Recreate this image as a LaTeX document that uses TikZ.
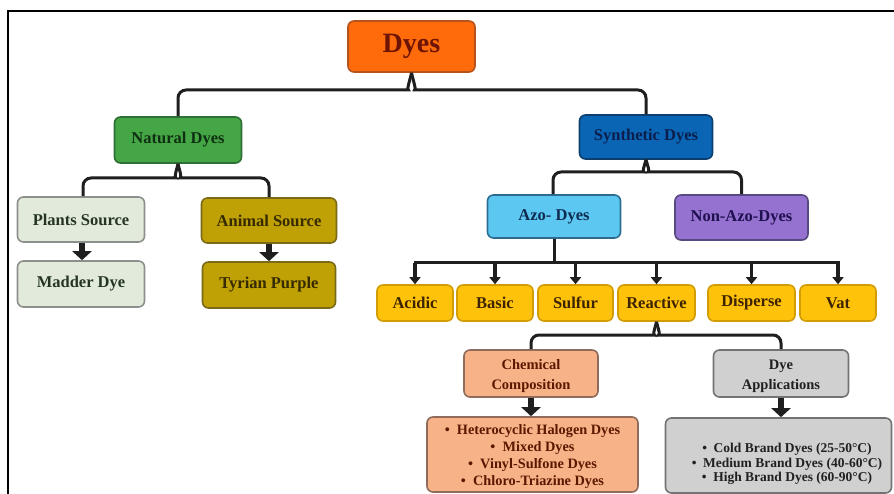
\documentclass[tikz,border=0pt]{standalone}
\usepackage{fontspec}
\setmainfont{Liberation Serif}
\usetikzlibrary{arrows.meta,calc}
\definecolor{cDyes}{HTML}{FF6A0A}
\definecolor{cDyesB}{HTML}{B5531C}
\definecolor{cDyesT}{HTML}{6E1405}
\definecolor{cNat}{HTML}{45A645}
\definecolor{cNatB}{HTML}{2F6F35}
\definecolor{cNatT}{HTML}{0F2F12}
\definecolor{cSyn}{HTML}{0A66B5}
\definecolor{cSynB}{HTML}{0C3E6E}
\definecolor{cSynT}{HTML}{0A1E4E}
\definecolor{cPl}{HTML}{E2EADC}
\definecolor{cPlB}{HTML}{8C8F8A}
\definecolor{cPlT}{HTML}{253525}
\definecolor{cAn}{HTML}{BFA005}
\definecolor{cAnB}{HTML}{7A6A18}
\definecolor{cAnT}{HTML}{352A00}
\definecolor{cAzo}{HTML}{5CC8F2}
\definecolor{cAzoB}{HTML}{2B6C90}
\definecolor{cAzoT}{HTML}{0F2A50}
\definecolor{cNon}{HTML}{9572D0}
\definecolor{cNonB}{HTML}{584A80}
\definecolor{cNonT}{HTML}{1F1050}
\definecolor{cYel}{HTML}{FFC20A}
\definecolor{cYelB}{HTML}{D29C05}
\definecolor{cYelT}{HTML}{3D2300}
\definecolor{cChem}{HTML}{F8B287}
\definecolor{cChemB}{HTML}{8E6B5A}
\definecolor{cChemT}{HTML}{5A1800}
\definecolor{cGr}{HTML}{D0D0D0}
\definecolor{cGrB}{HTML}{737373}
\definecolor{cGrT}{HTML}{202020}
\begin{document}
\begin{tikzpicture}[x=1pt,y=-1pt,
  bx/.style n args={5}{draw=#2, fill=#1, text=#3, minimum width=#4, minimum height=#5,
    rounded corners=6pt, line width=1.6pt, inner sep=0pt, align=center,
    font=\fontsize{16.5}{20}\selectfont\bfseries},
  txt/.style={text=#1, align=center, inner sep=0pt},
  conn/.style={line width=3pt, draw=black!88},
  arr/.style={line width=3.2pt, draw=black!88, -{Triangle[width=11pt,length=7pt]}},
  bigarr/.style={line width=6pt, draw=black!88, -{Triangle[width=19pt,length=9pt]}},
  lst/.style 2 args={font=\fontsize{#1}{#2}\selectfont\bfseries}
]
\useasboundingbox (0,0) rectangle (894,494);
\draw[line width=2pt] (8,494) -- (8,11) -- (894,11);

% level 0
\node[bx={cDyes}{cDyesB}{cDyesT}{127pt}{51pt}, font=\fontsize{28}{30}\selectfont\bfseries] (dyes) at (411.5,46.5) {Dyes};
% level 1
\node[bx={cNat}{cNatB}{cNatT}{127pt}{46pt}] (nat) at (178,140) {Natural Dyes};
\node[bx={cSyn}{cSynB}{cSynT}{133pt}{44pt}] (syn) at (646,137) {Synthetic Dyes};
% natural branch
\node[bx={cPl}{cPlB}{cPlT}{127pt}{45pt}] (plants) at (81,219.5) {Plants Source};
\node[bx={cAn}{cAnB}{cAnT}{135pt}{45pt}] (animal) at (269,220.5) {Animal Source};
\node[bx={cPl}{cPlB}{cPlT}{127pt}{46pt}] (madder) at (81,284) {Madder Dye};
\node[bx={cAn}{cAnB}{cAnT}{133pt}{46pt}] (tyrian) at (269,285) {Tyrian Purple};
% synthetic branch
\node[bx={cAzo}{cAzoB}{cAzoT}{133pt}{43pt}] (azo) at (554,216.5) {Azo- Dyes};
\node[bx={cNon}{cNonB}{cNonT}{133pt}{45pt}] (nonazo) at (741.5,217.5) {Non-Azo-Dyes};
% azo classes
\node[bx={cYel}{cYelB}{cYelT}{76pt}{36pt}] (acidic) at (415,303) {Acidic};
\node[bx={cYel}{cYelB}{cYelT}{76pt}{36pt}] (basic) at (495,303) {Basic};
\node[bx={cYel}{cYelB}{cYelT}{75pt}{36pt}] (sulfur) at (575.5,303) {Sulfur};
\node[bx={cYel}{cYelB}{cYelT}{77pt}{36pt}] (reactive) at (656.5,303) {Reactive};
\node[bx={cYel}{cYelB}{cYelT}{87pt}{36pt}] (disperse) at (751.5,303) {Disperse};
\node[bx={cYel}{cYelB}{cYelT}{76pt}{36pt}] (vat) at (838,303) {Vat};
% reactive branch
\node[bx={cChem}{cChemB}{cChemT}{134pt}{47pt}] (chem) at (531,373.5) {};
\node[txt=cChemT, lst={14.5}{20}] (chemtxt) at (531,376) {Chemical\\Composition};
\node[bx={cGr}{cGrB}{cGrT}{135pt}{47pt}] (dyeapp) at (781,373.5) {};
\node[txt=cGrT, lst={14.5}{20}] (dyeapptxt) at (781,376) {Dye\\Applications};
\node[bx={cChem}{cChemB}{cChemT}{211pt}{75pt}] (chemlist) at (532.5,454.5) {};
\node[txt=cChemT, lst={14.3}{17}] (chemlisttxt) at (532.5,457)
  {•~~Heterocyclic Halogen Dyes\\•~~Mixed Dyes\\•~~Vinyl-Sulfone Dyes\\•~~Chloro-Triazine Dyes};
\node[bx={cGr}{cGrB}{cGrT}{226pt}{75pt}] (applist) at (778.5,455.5) {};
\node[txt=cGrT, lst={13.5}{14.5}] (applisttxt) at (787,464)
  {•~~Cold Brand Dyes (25-50°C)\\•~~Medium Brand Dyes (40-60°C)\\•~~High Brand Dyes (60-90°C)};

% brace connectors
\coordinate (j1) at (411.5,90);
\draw[conn, rounded corners=8pt] (nat.north) |- ($(j1)+(-11,0)$) .. controls +(6,0) and +(-2,9) .. (dyes.south);
\draw[conn, rounded corners=8pt] (syn.north) |- ($(j1)+(11,0)$) .. controls +(-6,0) and +(2,9) .. (dyes.south);
\coordinate (j2) at (178,178);
\draw[conn, rounded corners=8pt] ([xshift=2pt]plants.north) |- ($(j2)+(-10,0)$) .. controls +(6,0) and +(-2,8) .. (nat.south);
\draw[conn, rounded corners=8pt] (animal.north) |- ($(j2)+(10,0)$) .. controls +(-6,0) and +(2,8) .. (nat.south);
\coordinate (j3) at (646,172);
\draw[conn, rounded corners=8pt] ([xshift=-1pt]azo.north) |- ($(j3)+(-10,0)$) .. controls +(6,0) and +(-2,7) .. (syn.south);
\draw[conn, rounded corners=8pt] (nonazo.north) |- ($(j3)+(10,0)$) .. controls +(-6,0) and +(2,7) .. (syn.south);
\coordinate (j4) at (656.5,335);
\draw[conn, rounded corners=8pt] (chem.north) |- ($(j4)+(-10,0)$) .. controls +(6,0) and +(-2,8) .. (reactive.south);
\draw[conn, rounded corners=8pt] (dyeapp.north) |- ($(j4)+(10,0)$) .. controls +(-6,0) and +(2,8) .. (reactive.south);

% azo bus
\coordinate (bus) at (554,263);
\draw[conn] (azo.south) -- (bus);
\draw[conn] ([xshift=-1.5pt]acidic.north |- bus) -- ([xshift=1.5pt]vat.north |- bus);
\foreach \n in {acidic,basic,sulfur,reactive,disperse,vat}
  \draw[arr] (\n.north |- bus) -- (\n.north);

% thick arrows
\draw[bigarr] ([xshift=1pt]plants.south) -- ([xshift=1pt]madder.north);
\draw[bigarr] (animal.south) -- (tyrian.north);
\draw[bigarr] (chem.south) -- (chem.south |- chemlist.north);
\draw[bigarr] (dyeapp.south) -- (dyeapp.south |- applist.north);
\end{tikzpicture}
\end{document}
